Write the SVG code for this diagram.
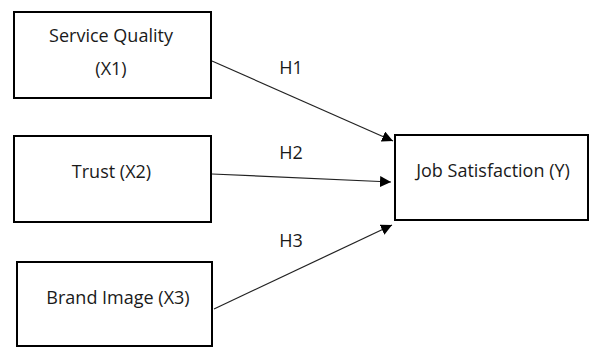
<svg xmlns="http://www.w3.org/2000/svg" width="590" height="347" viewBox="0 0 590 347">
<style>
.box{fill:#fff;stroke:#000;stroke-width:2}
.t{font-family:"Open Sans","Liberation Sans",Arial,sans-serif;font-size:18px;fill:#1a1a1a;text-anchor:middle}
.c{stroke:#222;stroke-width:1.2;fill:none;marker-end:url(#ah)}
</style>
<defs>
<marker id="ah" viewBox="0 0 10 10" refX="10" refY="5" markerWidth="11" markerHeight="11" markerUnits="userSpaceOnUse" orient="auto">
<path d="M0,0 L10,5 L0,10 z" fill="#000"/>
</marker>
</defs>
<rect width="590" height="347" fill="#fff"/>
<g id="x1"><rect class="box" x="14" y="12" width="197" height="86"/><text class="t" x="111" y="42">Service Quality</text><text class="t" x="111" y="75">(X1)</text></g>
<g id="x2"><rect class="box" x="14" y="136" width="197" height="86"/><text class="t" x="111.5" y="178">Trust (X2)</text></g>
<g id="x3"><rect class="box" x="17" y="262" width="195" height="84"/><text class="t" x="118" y="304">Brand Image (X3)</text></g>
<g id="y"><rect class="box" x="395" y="135" width="193" height="85"/><text class="t" x="493" y="177">Job Satisfaction (Y)</text></g>
<g id="connectors">
<line class="c" x1="212" y1="61" x2="393" y2="141"/>
<line class="c" x1="212" y1="174" x2="391" y2="182"/>
<line class="c" x1="214" y1="309" x2="392" y2="225"/>
<text class="t" x="291" y="74">H1</text>
<text class="t" x="291" y="159">H2</text>
<text class="t" x="291" y="247">H3</text>
</g>
</svg>
